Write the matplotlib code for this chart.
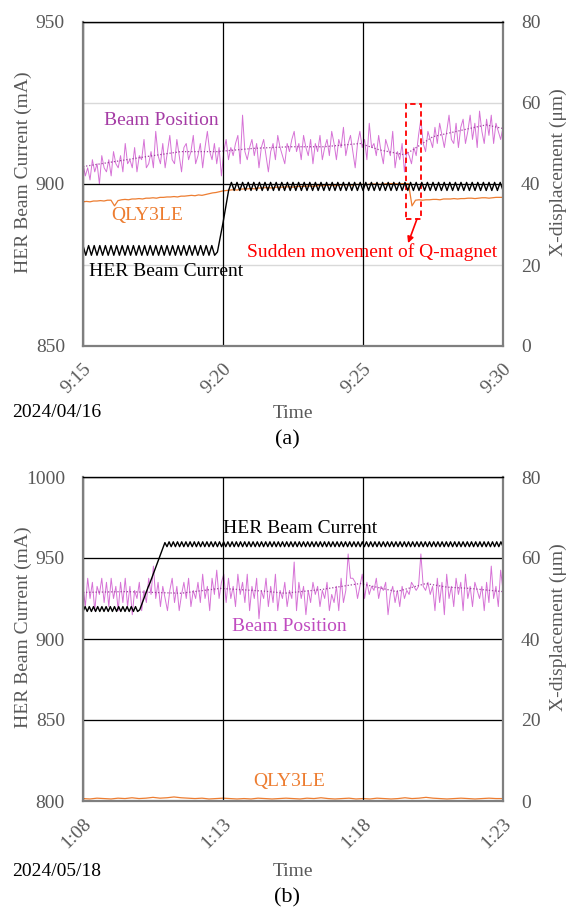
import matplotlib
matplotlib.use("Agg")  # Non-interactive backend
import matplotlib.pyplot as plt
from matplotlib.patches import Rectangle
import numpy as np

# === Style ===
plt.rcParams.update({
    "font.family": "serif",
    "font.serif": ["Liberation Serif", "DejaVu Serif"],
    "font.size": 14,
    "axes.unicode_minus": False,
})

GRAY_TXT = "#595959"
SPINE_GRAY = "#7f7f7f"
POS_COLOR = "#d672d6"
AVG_COLOR = "#a040a0"
QLY_COLOR = "#ed7d31"
W, H = 566, 910

# === Data: panel (a) 2024/04/16, minutes after 9:15 ===
TIME_LABELS_A = ["9:15", "9:20", "9:25", "9:30"]
DATE_A = "2024/04/16"

# HER beam current [mA], sampled every 0.1 min
CURRENT_A = [
    881, 878, 881, 878, 881, 878, 881, 878, 881, 878,
    881, 878, 881, 878, 881, 878, 881, 878, 881, 878,
    881, 878, 881, 878, 881, 878, 881, 878, 881, 878,
    881, 878, 881, 878, 881, 878, 881, 878, 881, 878,
    881, 878, 881, 878, 881, 878, 881, 878,
    879, 883.5, 888, 893, 898,
    900.5, 898, 900.5, 898, 900.5, 898, 900.5, 898, 900.5, 898,
    900.5, 898, 900.5, 898, 900.5, 898, 900.5, 898, 900.5, 898,
    900.5, 898, 900.5, 898, 900.5, 898, 900.5, 898, 900.5, 898,
    900.5, 898, 900.5, 898, 900.5, 898, 900.5, 898, 900.5, 898,
    900.5, 898, 900.5, 898, 900.5, 898, 900.5, 898, 900.5, 898,
    900.5, 898, 900.5, 898, 900.5, 898, 900.5, 898, 900.5, 898,
    900.5, 898, 900.5, 898, 900.5, 898, 900.5, 898, 900.5, 898,
    900.5, 898, 900.5, 898, 900.5, 898, 900.5, 898, 900.5, 898,
    900.5, 898, 900.5, 898, 900.5, 898, 900.5, 898, 900.5, 898,
    900.5, 898, 900.5, 898, 900.5, 898, 900.5, 898,
]

# Beam position [um]
POSITION_A = [
    45, 42, 44, 41, 46, 43, 45, 40, 47, 44, 43, 46, 42, 48, 45,
    44, 47, 43, 50, 45, 46, 44, 49, 43, 47, 46, 51, 44, 45, 48,
    44, 53, 47, 45, 50, 44, 48, 52, 46, 45, 51, 47, 43, 49, 50,
    46, 48, 52, 45, 47, 50, 44, 49, 53, 48, 46, 50, 45, 49, 42,
    48, 51, 46, 49, 47, 50, 52, 45, 57, 48, 46, 49, 51, 47, 50,
    44, 49, 51, 47, 43, 48, 50, 46, 52, 49, 47, 45, 50, 48, 51,
    53, 48, 50, 46, 52, 49, 47, 51, 45, 50, 48, 52, 46, 49, 51,
    47, 53, 50, 46, 51, 49, 54, 47, 50, 52, 48, 44, 50, 53, 49,
    51, 46, 55, 49, 50, 47, 52, 48, 45, 51, 49, 47, 53, 44, 48,
    46, 50, 43, 48, 47, 45, 49, 47, 52, 56, 50, 48, 53, 51, 49,
    54, 50, 55, 52, 49, 53, 57, 51, 50, 55, 49, 54, 56, 50, 53,
    57, 51, 55, 49, 58, 53, 50, 56, 52, 57, 50, 55, 53, 51, 54,
]

# Moving average of beam position (minutes, um)
AVG_T_A = [0, 2.2, 3.5, 4.8, 6.1, 7.4, 8.6, 9.9, 10.6, 11.5, 12.5, 13.8, 14.4, 15.0]
AVG_A = [44.3, 46.7, 48.0, 48.0, 48.8, 49.2, 49.2, 50.0, 48.4, 47.2, 51.7, 53.7, 54.6, 53.7]

# QLY3LE displacement [um], sampled every 0.125 min
QLY3LE_A = [
    35.6, 35.7, 35.6, 35.8, 35.8, 35.9, 35.8, 36.0, 36.0,
    34.6, 35.9,
    36.1, 36.2, 36.1, 36.3, 36.3, 36.4, 36.3, 36.5, 36.5, 36.6, 36.5, 36.7, 36.7,
    36.8, 36.8, 36.9, 36.8, 37.0, 37.0, 37.1, 37.2, 37.1, 37.3, 37.2, 37.4,
    37.6, 37.8, 37.9, 38.1,
    38.3, 38.4, 38.5, 38.6, 38.5, 38.7, 38.8, 38.8, 38.9, 38.8, 39.0, 39.0,
    39.1, 39.1, 39.0, 39.2, 39.2, 39.2, 39.3, 39.3, 39.2, 39.4, 39.4, 39.4,
    39.5, 39.5, 39.4, 39.6, 39.6, 39.6, 39.7, 39.7, 39.6, 39.7, 39.8, 39.8,
    39.8, 39.7, 39.9, 39.9, 39.9, 39.8, 40.0, 40.0, 40.0, 39.9, 40.0, 40.1,
    40.1, 40.1, 40.0, 40.1, 40.1, 40.1,
    34.6, 36.0,
    36.1, 36.0, 36.1, 36.1, 36.2, 36.2, 36.1, 36.3, 36.3, 36.3, 36.4, 36.3,
    36.4, 36.4, 36.5, 36.5, 36.4, 36.5, 36.6, 36.6, 36.5, 36.6, 36.7, 36.7,
    36.7,
]

# === Data: panel (b) 2024/05/18, minutes after 1:08 ===
TIME_LABELS_B = ["1:08", "1:13", "1:18", "1:23"]
DATE_B = "2024/05/18"

# HER beam current [mA], sampled every 0.075 min
CURRENT_B = [
    917, 920, 917, 920, 917, 920, 917, 920, 917, 920,
    917, 920, 917, 920, 917, 920, 917, 920, 917, 920,
    917, 920, 917, 920, 917, 920, 917,
    918, 921.5, 925, 928.5, 932, 935, 938.5, 942, 945.5, 949, 952.5, 956, 959.5,
    957, 960, 957, 960, 957, 960, 957, 960, 957, 960,
    957, 960, 957, 960, 957, 960, 957, 960, 957, 960,
    957, 960, 957, 960, 957, 960, 957, 960, 957, 960,
    957, 960, 957, 960, 957, 960, 957, 960, 957, 960,
    957, 960, 957, 960, 957, 960, 957, 960, 957, 960,
    957, 960, 957, 960, 957, 960, 957, 960, 957, 960,
    957, 960, 957, 960, 957, 960, 957, 960, 957, 960,
    957, 960, 957, 960, 957, 960, 957, 960, 957, 960,
    957, 960, 957, 960, 957, 960, 957, 960, 957, 960,
    957, 960, 957, 960, 957, 960, 957, 960, 957, 960,
    957, 960, 957, 960, 957, 960, 957, 960, 957, 960,
    957, 960, 957, 960, 957, 960, 957, 960, 957, 960,
    957, 960, 957, 960, 957, 960, 957, 960, 957, 960,
    957, 960, 957, 960, 957, 960, 957, 960, 957, 960,
    957, 960, 957, 960, 957, 960, 957, 960, 957, 960,
    957, 960, 957, 960, 957, 960, 957, 960, 957, 960,
    957,
]

POSITION_B = [
    53, 48, 55, 50, 54, 47, 53, 51, 55, 49, 54, 48, 55, 50, 53,
    47, 54, 49, 55, 48, 53, 46, 52, 50, 54, 47, 52, 49, 55, 51,
    58, 50, 54, 48, 53, 50, 47, 52, 55, 49, 53, 47, 51, 54, 50,
    55, 48, 52, 50, 54, 49, 56, 50, 53, 47, 55, 51, 57, 50, 54,
    56, 49, 55, 50, 53, 48, 56, 51, 54, 49, 56, 47, 53, 50, 55,
    45, 52, 50, 55, 48, 53, 49, 56, 47, 52, 50, 54, 48, 52, 50,
    59, 47, 54, 50, 53, 46, 52, 49, 54, 51, 53, 48, 52, 50, 54,
    47, 51, 49, 53, 47, 55, 49, 52, 61, 55, 55, 54, 50, 53, 56,
    50, 54, 51, 53, 52, 55, 50, 53, 52, 54, 46, 51, 53, 49, 52,
    48, 53, 50, 52, 51, 54, 53, 52, 53, 61, 53, 52, 54, 51, 53,
    47, 55, 49, 54, 46, 56, 50, 53, 48, 55, 51, 54, 47, 56, 50,
    53, 48, 54, 52, 50, 53, 47, 54, 49, 58, 50, 53, 48, 57, 52,
]

AVG_T_B = [0, 1.5, 3.5, 4.9, 6.5, 7.2, 8.5, 9.9, 11.2, 12.25, 13.0, 13.8, 15.0]
AVG_B = [51.5, 51.7, 51.3, 52.5, 51.8, 51.3, 52.2, 53.7, 51.7, 53.7, 52.8, 52.5, 51.7]

QLY3LE_B = [
    0.6, 0.5, 0.7, 0.6, 0.5, 0.7, 0.6, 0.8, 0.6, 0.7,
    0.9, 0.7, 0.8, 1.0, 0.8, 0.7, 0.6, 0.7, 0.5, 0.6,
    0.7, 0.6, 0.5, 0.6, 0.5, 0.7, 0.6, 0.5, 0.6, 0.7,
    0.6, 0.5, 0.7, 0.6, 0.8, 0.6, 0.5, 0.6, 0.7, 0.5,
    0.6, 0.5, 0.7, 0.6, 0.5, 0.6, 0.8, 0.6, 0.7, 0.9,
    0.7, 0.6, 0.5, 0.6, 0.7, 0.6, 0.5, 0.6, 0.7, 0.6,
    0.6,
]


def fig_xy(x, y):
    # pixel position -> figure fraction
    return x / W, 1 - y / H


def draw_panel(fig, top_px, current, position, avg_t, avg, qly,
               ylim, yticks, time_labels):
    left, right, height = 83, 503, 324
    x0, y0 = fig_xy(left, top_px + height)
    ax = fig.add_axes([x0, y0, (right - left) / W, height / H])
    ax2 = ax.twinx()
    ax.set_zorder(ax2.get_zorder() + 1)
    ax.patch.set_visible(False)

    # displacement (right axis)
    ax2.plot(np.linspace(0, 15, len(qly)), qly, color=QLY_COLOR, lw=0.9)
    ax2.plot(np.linspace(0, 15, len(position)), position, color=POS_COLOR, lw=0.7)
    ax2.plot(avg_t, avg, color=AVG_COLOR, lw=0.9, ls=(0, (1, 1.5)))
    ax2.set_ylim(0, 80)
    ax2.set_yticks([0, 20, 40, 60, 80])
    ax2.grid(axis="y", color="#d9d9d9", lw=1.0)

    # beam current (left axis)
    ax.plot(np.linspace(0, 15, len(current)), current, color="black", lw=1.0)
    ax.set_xlim(0, 15)
    ax.set_ylim(*ylim)
    ax.set_yticks(yticks)
    ax.set_xticks([0, 5, 10, 15])
    ax.set_xticklabels(time_labels, rotation=45, ha="right", va="top",
                       rotation_mode="anchor")
    ax.grid(True, color="black", lw=0.9)

    for a in (ax, ax2):
        a.tick_params(length=0, colors=GRAY_TXT, labelsize=14)
        for s in a.spines.values():
            s.set_visible(False)
    ax.tick_params(axis="y", pad=13)
    ax.tick_params(axis="x", pad=10)
    ax2.tick_params(axis="y", pad=13)
    for side in ("left", "bottom", "right"):
        ax.spines[side].set_visible(True)
        ax.spines[side].set_color(SPINE_GRAY)
        ax.spines[side].set_linewidth(1.6)
    ax.spines["top"].set_visible(True)
    ax.spines["top"].set_color("black")
    ax.spines["top"].set_linewidth(1.0)

    mid = top_px + height / 2 - 12
    fig.text(*fig_xy(23, mid), "HER Beam Current (mA)", rotation=90,
             ha="center", va="center", color=GRAY_TXT, fontsize=14)
    fig.text(*fig_xy(558, mid), "X-displacement (\u03bcm)", rotation=90,
             ha="center", va="center", color=GRAY_TXT, fontsize=14)
    return ax, ax2


fig = plt.figure(figsize=(W / 100, H / 100), dpi=100)

# %% === (a) ===
ax, ax2 = draw_panel(fig, 22, CURRENT_A, POSITION_A, AVG_T_A, AVG_A, QLY3LE_A,
                     (850, 950), [850, 900, 950], TIME_LABELS_A)
ax2.text(2.79, 55.8, "Beam Position", color="#a53ca5", ha="center", va="center", fontsize=14)
ax2.text(2.29, 32.3, "QLY3LE", color=QLY_COLOR, ha="center", va="center", fontsize=14)
ax.text(2.96, 873.1, "HER Beam Current", color="black", ha="center", va="center", fontsize=14)
ax2.text(10.32, 23.2, "Sudden movement of Q-magnet", color="red", ha="center",
         va="center", fontsize=14)
ax2.add_patch(Rectangle((11.54, 31.4), 0.53, 28.4, fill=False, ec="red",
                        ls=(0, (3, 2)), lw=1.3, zorder=5))
ax2.annotate("", xy=(11.61, 25.4), xytext=(11.93, 31.4),
             arrowprops=dict(arrowstyle="-|>", color="red", lw=1.2,
                             mutation_scale=9, shrinkA=0, shrinkB=0))
fig.text(*fig_xy(12, 413), DATE_A, ha="left", va="center", fontsize=14)
fig.text(*fig_xy(293, 414), "Time", ha="center", va="center", color=GRAY_TXT, fontsize=14)
fig.text(*fig_xy(287, 440), "(a)", ha="center", va="center", fontsize=16)

# %% === (b) ===
ax, ax2 = draw_panel(fig, 477, CURRENT_B, POSITION_B, AVG_T_B, AVG_B, QLY3LE_B,
                     (800, 1000), [800, 850, 900, 950, 1000], TIME_LABELS_B)
ax.text(7.75, 968.5, "HER Beam Current", color="black", ha="center", va="center", fontsize=14)
ax2.text(7.36, 43.0, "Beam Position", color="#c04cc0", ha="center", va="center", fontsize=14)
ax2.text(7.36, 4.7, "QLY3LE", color=QLY_COLOR, ha="center", va="center", fontsize=14)
fig.text(*fig_xy(12, 871), DATE_B, ha="left", va="center", fontsize=14)
fig.text(*fig_xy(293, 871), "Time", ha="center", va="center", color=GRAY_TXT, fontsize=14)
fig.text(*fig_xy(287, 898), "(b)", ha="center", va="center", fontsize=16)

fig.savefig("out.png", dpi=100)
